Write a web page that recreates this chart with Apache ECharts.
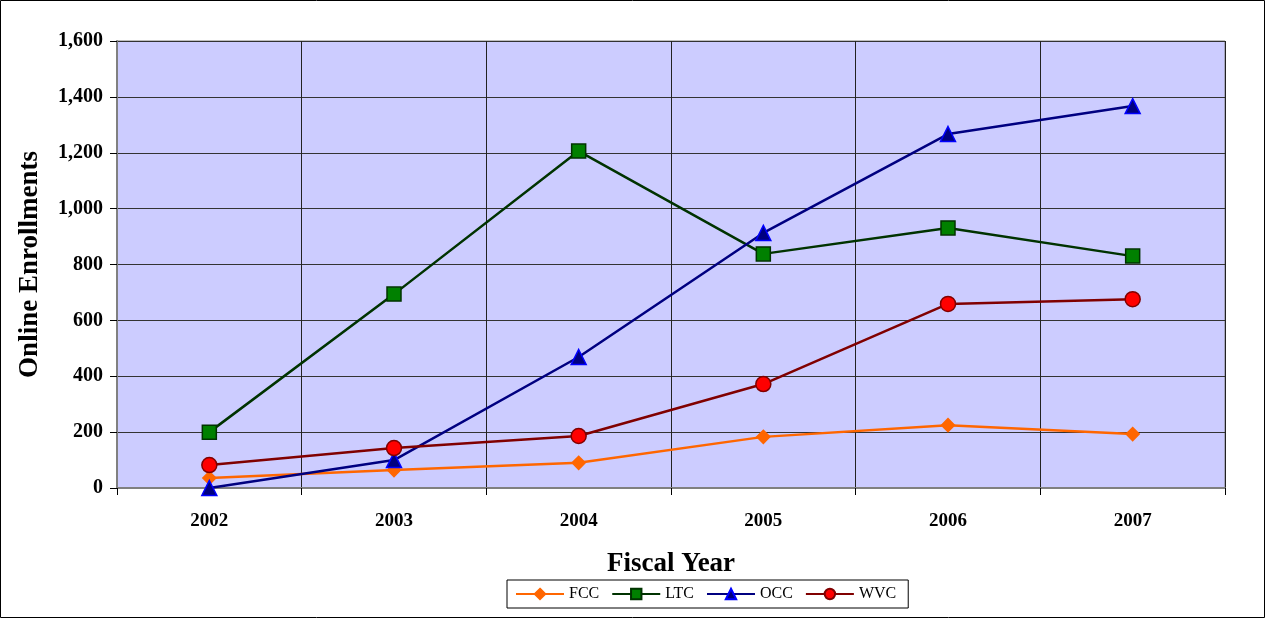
<!DOCTYPE html>
<html>
<head>
<meta charset="utf-8">
<script src="https://cdn.jsdelivr.net/npm/echarts@6/dist/echarts.min.js"></script>
<style>
  html, body { margin: 0; padding: 0; background: #fff; }
  #chart { width: 1266px; height: 619px; }
</style>
</head>
<body>
<div id="chart"></div>
<script>
// Fiscal years on the category axis
const years = ['2002', '2003', '2004', '2005', '2006', '2007'];

// Online enrollments per college
const fcc = [36, 64, 90, 183, 225, 193];
const ltc = [200, 694, 1206, 838, 931, 830];
const occ = [0, 100, 469, 913, 1267, 1367];
const wvc = [82, 143, 186, 372, 659, 676];

const serif = '"Liberation Serif", "Times New Roman", serif';

const chart = echarts.init(document.getElementById('chart'), null, { renderer: 'canvas' });

function lineSeries(name, data, lineColor, symbol, size, fill, stroke) {
  return {
    name: name,
    type: 'line',
    data: data,
    symbol: symbol,
    symbolSize: size,
    showAllSymbol: true,
    lineStyle: { color: lineColor, width: 2.5 },
    itemStyle: { color: fill, borderColor: stroke, borderWidth: 1.5 },
    emphasis: { disabled: true },
    animation: false
  };
}

chart.setOption({
  animation: false,
  backgroundColor: '#ffffff',
  textStyle: { fontFamily: serif },
  graphic: [{
    type: 'rect',
    shape: { x: 0.5, y: 0.5, width: 1264, height: 617 },
    style: { fill: 'none', stroke: '#000', lineWidth: 1 },
    silent: true
  }],
  grid: {
    left: 117, right: 41, top: 41, bottom: 131,
    show: true,
    backgroundColor: '#CCCCFF',
    borderColor: '#808080',
    borderWidth: 1
  },
  legend: {
    bottom: 11,
    left: 507,
    itemWidth: 48,
    itemHeight: 13,
    itemGap: 12,
    padding: [6, 12, 6, 8],
    borderColor: '#000',
    borderWidth: 1,
    backgroundColor: '#fff',
    textStyle: { fontFamily: serif, fontSize: 16, color: '#000' },
    data: ['FCC', 'LTC', 'OCC', 'WVC']
  },
  xAxis: {
    type: 'category',
    data: years,
    boundaryGap: true,
    name: 'Fiscal Year',
    nameLocation: 'middle',
    nameGap: 63,
    nameTextStyle: { fontFamily: serif, fontSize: 27, fontWeight: 'bold', color: '#000' },
    axisLine: { lineStyle: { color: '#808080', width: 2 } },
    axisTick: { show: true, length: 7, lineStyle: { color: '#000' } },
    axisLabel: { margin: 24, fontFamily: serif, fontSize: 19, fontWeight: 'bold', color: '#000' },
    splitLine: { show: true, lineStyle: { color: '#222', width: 1 } }
  },
  yAxis: {
    type: 'value',
    min: 0, max: 1600, interval: 200,
    name: 'Online Enrollments',
    nameLocation: 'middle',
    nameRotate: 90,
    nameGap: 73,
    nameTextStyle: { fontFamily: serif, fontSize: 27, fontWeight: 'bold', color: '#000' },
    axisLine: { show: true, lineStyle: { color: '#808080', width: 2 } },
    axisTick: { show: true, length: 7, lineStyle: { color: '#000' } },
    axisLabel: {
      margin: 14, fontFamily: serif, fontSize: 20, fontWeight: 'bold', color: '#000',
      formatter: v => v.toLocaleString('en-US')
    },
    splitLine: { show: true, lineStyle: { color: '#333', width: 1 } }
  },
  series: [
    lineSeries('FCC', fcc, '#FF6600', 'diamond', 13, '#FF6600', '#FF6600'),
    lineSeries('LTC', ltc, '#003300', 'rect', 14, '#008000', '#003300'),
    lineSeries('OCC', occ, '#000080', 'triangle', 15, '#000080', '#0000FF'),
    lineSeries('WVC', wvc, '#800000', 'circle', 15, '#FF0000', '#800000')
  ]
});
</script>
</body>
</html>
